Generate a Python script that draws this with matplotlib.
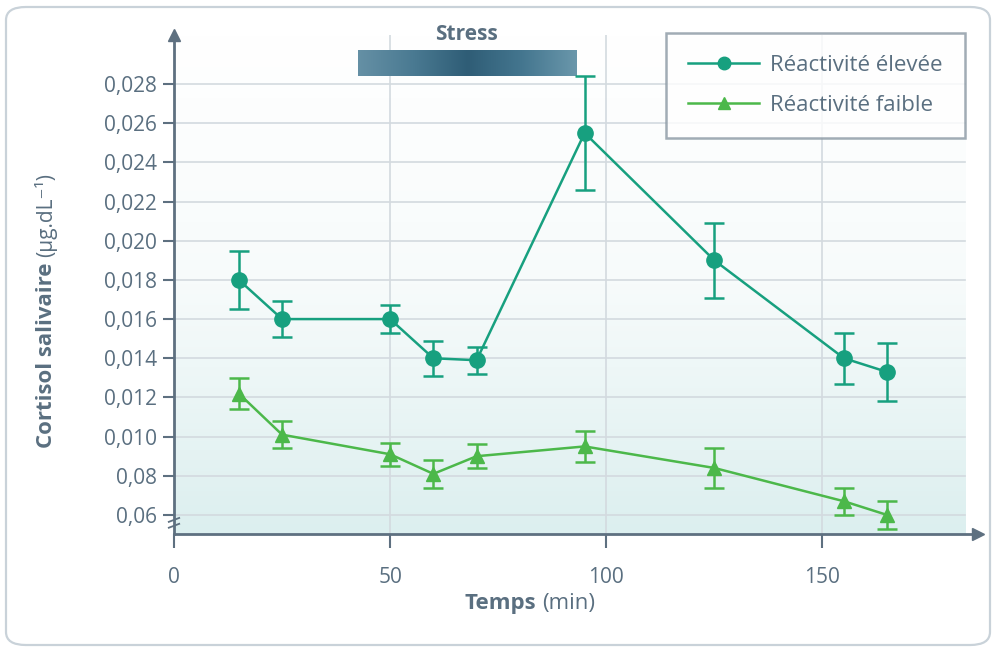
import matplotlib
matplotlib.use("Agg")
import matplotlib.pyplot as plt
import numpy as np
from matplotlib.patches import FancyBboxPatch
from matplotlib.lines import Line2D
from matplotlib.colors import LinearSegmentedColormap

# ── Data ──────────────────────────────────────────────────────────────────────
TIME        = [15, 25, 50, 60, 70, 95, 125, 155, 165]
HIGH        = [0.0180, 0.0160, 0.0160, 0.0140, 0.0139, 0.0255, 0.0190, 0.0140, 0.0133]
HIGH_ERR    = [0.0015, 0.0009, 0.0007, 0.0009, 0.0007, 0.0029, 0.0019, 0.0013, 0.0015]
LOW         = [0.0122, 0.0101, 0.0091, 0.0081, 0.0090, 0.0095, 0.0084, 0.0067, 0.0060]
LOW_ERR     = [0.0008, 0.0007, 0.0006, 0.0007, 0.0006, 0.0008, 0.0010, 0.0007, 0.0007]
Y_TICKS     = [0.006, 0.008, 0.010, 0.012, 0.014, 0.016, 0.018, 0.020,
               0.022, 0.024, 0.026, 0.028]
Y_LABELS    = ["0,06", "0,08", "0,010", "0,012", "0,014", "0,016", "0,018",
               "0,020", "0,022", "0,024", "0,026", "0,028"]
X_TICKS     = [0, 50, 100, 150]
STRESS      = (42.5, 93.0)
SERIES      = ["Réactivité élevée", "Réactivité faible"]

# ── Palette ───────────────────────────────────────────────────────────────────
TEAL   = "#17a07f"
GREEN  = "#4cb84a"
TEXT   = "#5a6f80"
AXIS   = "#5e7080"
GRID   = "#d3dadf"

plt.rcParams["font.family"] = ["Open Sans", "DejaVu Sans"]

XMIN, XMAX = 0, 186
YMIN, YMAX = 0.00503, 0.0305

fig = plt.figure(figsize=(9.96, 6.51), dpi=100)
ax = fig.add_axes([174 / 996, 1 - 534 / 651, (978 - 174) / 996, (534 - 35) / 651])

# rounded frame around everything
frame = FancyBboxPatch((6 / 996, 6 / 651), 984 / 996, 638 / 651,
                       boxstyle="round,pad=0,rounding_size=0.02",
                       transform=fig.transFigure, facecolor="none",
                       edgecolor="#c9d2d9", linewidth=1.6, zorder=0)
fig.patches.append(frame)

# background gradient: white at top -> pale teal at bottom
bg = LinearSegmentedColormap.from_list("bg", ["#ffffff", "#f7fbfb", "#dcefef"])
grad = np.linspace(0, 1, 256).reshape(-1, 1)
ax.imshow(grad, cmap=bg, aspect="auto", extent=(0, 183, YMIN, YMAX),
          origin="upper", zorder=0)

# grid
for yv in Y_TICKS:
    ax.plot([0, 183], [yv, yv], color=GRID, lw=1.2, zorder=1)
for xv in X_TICKS[1:]:
    ax.plot([xv, xv], [YMIN, YMAX], color=GRID, lw=1.2, zorder=1)

# stress bar with gradient
sbar = LinearSegmentedColormap.from_list(
    "sb", ["#6590a5", "#4a7a92", "#2f5d76", "#44768f", "#6a97ab"])
sgrad = np.linspace(0, 1, 256).reshape(1, -1)
ax.imshow(sgrad, cmap=sbar, aspect="auto",
          extent=(STRESS[0], STRESS[1], 0.02842, 0.02970), zorder=2)
ax.text((STRESS[0] + STRESS[1]) / 2, 0.03000, "Stress", ha="center", va="bottom",
        fontsize=15, fontweight="bold", color=TEXT)

# series
ax.errorbar(TIME, HIGH, yerr=HIGH_ERR, color=TEAL, lw=1.8, marker="o",
            ms=11, capsize=7, capthick=1.8, elinewidth=1.8, zorder=4)
ax.errorbar(TIME, LOW, yerr=LOW_ERR, color=GREEN, lw=1.8, marker="^",
            ms=10, capsize=7, capthick=1.8, elinewidth=1.8, zorder=4)

ax.set_xlim(XMIN, XMAX)
ax.set_ylim(YMIN, YMAX)

for s in ["top", "right"]:
    ax.spines[s].set_visible(False)
for s in ["left", "bottom"]:
    ax.spines[s].set_color(AXIS)
    ax.spines[s].set_linewidth(2)

# axis arrows
ax.plot(1, 0, ">", transform=ax.transAxes, color=AXIS, ms=9, clip_on=False)
ax.plot(0, 1, "^", transform=ax.transAxes, color=AXIS, ms=9, clip_on=False)

# axis break marks on y axis
for dy in (0.00015, -0.00015):
    ax.plot([-1.2, 1.2], [0.0056 + dy - 0.0001, 0.0056 + dy + 0.0001],
            color=AXIS, lw=1.3, clip_on=False, zorder=5)

ax.set_yticks(Y_TICKS)
ax.set_yticklabels(Y_LABELS)
ax.set_xticks(X_TICKS)
ax.tick_params(axis="y", direction="out", length=8, width=1.5, color=AXIS,
               labelsize=15, labelcolor=TEXT, pad=4)
ax.tick_params(axis="x", direction="out", length=10, width=1.5, color=AXIS,
               labelsize=15, labelcolor=TEXT, pad=14)

# axis titles (bold part + normal part)
fig.text(46 / 996, 1 - 263 / 651, "Cortisol salivaire", rotation=90,
         ha="center", va="top", fontsize=16, fontweight="bold", color=TEXT)
fig.text(46 / 996, 1 - 257 / 651, "(µg.dL⁻¹)", rotation=90,
         ha="center", va="bottom", fontsize=15, color=TEXT)
fig.text(536 / 996, 1 - 603 / 651, "Temps", ha="right", va="center",
         fontsize=16, fontweight="bold", color=TEXT)
fig.text(542 / 996, 1 - 603 / 651, "(min)", ha="left", va="center",
         fontsize=16, color=TEXT)

handles = [
    Line2D([], [], color=TEAL, lw=1.8, marker="o", ms=9),
    Line2D([], [], color=GREEN, lw=1.8, marker="^", ms=8),
]
leg = fig.legend(handles, SERIES, loc="upper right",
                 bbox_to_anchor=(965 / 996, 1 - 33 / 651),
                 fontsize=16, frameon=True, fancybox=False,
                 edgecolor="#8a98a3", handlelength=3.2,
                 borderpad=1.0, labelspacing=0.85, handletextpad=0.5,
                 borderaxespad=0)
leg.get_frame().set_linewidth(1.8)
for t in leg.get_texts():
    t.set_color(TEXT)

fig.savefig("out.png", dpi=100)
